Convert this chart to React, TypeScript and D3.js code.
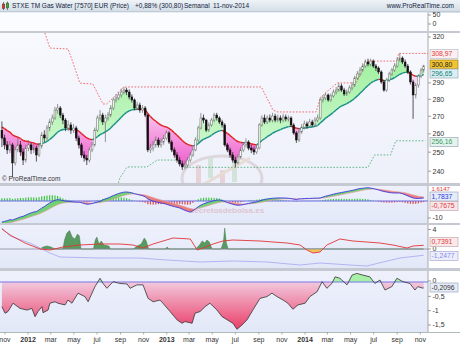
import React from "react";
import * as d3 from "d3";

const W = 460;
const H = 345;
const PR = 428;

const startDate = new Date(2011, 9, 24);
const firstOpen = 262;
const maPeriod = 20;
const maSeed = 264.5;
const signalPeriod = 9;
const signalSeed = -14.4;

const closes = [257.7,253.9,251.2,253.9,244.3,251.2,253.9,250.1,245.8,252.2,
253.9,251.2,252.2,248.5,253.3,259.4,257.7,263.3,266.7,269.0,
273.6,274.8,270.7,267.8,263.3,265.0,262.1,263.3,257.7,253.9,
248.5,246.9,245.8,251.2,253.9,262.1,269.0,270.7,266.7,269.0,
270.7,274.8,279.6,280.8,282.6,284.4,285.6,284.4,281.4,279.6,
274.8,276.6,273.6,274.8,270.7,251.2,252.2,253.9,256.6,253.9,
255.5,257.7,260.5,255.5,251.2,248.5,245.8,243.8,242.2,243.2,
245.8,248.5,251.2,256.6,263.3,269.0,267.8,262.1,265.0,267.8,
270.7,269.0,266.7,265.0,253.9,251.2,248.5,245.8,244.3,247.4,
251.2,253.9,255.5,252.2,251.2,250.1,252.2,265.0,269.0,266.7,
269.0,267.8,270.1,267.8,269.0,267.8,269.6,268.4,269.0,265.0,
260.5,256.6,261.0,263.8,265.6,264.4,266.7,265.0,267.8,269.0,
279.6,280.8,282.6,279.6,282.0,284.4,285.6,288.1,285.6,283.2,
284.4,286.9,288.7,293.1,295.6,298.1,300.7,303.3,302.0,303.9,
300.7,299.4,296.9,290.6,285.6,291.8,295.6,298.1,300.7,304.6,
305.9,303.3,300.7,296.9,290.6,282.6,288.7,294.3,298.1,300.8];

const highs = [267,259.5,256,256,255,253,258,256,252,254,
256.5,255,254.5,253.5,255,261,262,265,268.5,271,
275.5,277.2,276,272,269,267.5,266.5,265.5,264.5,259,
255,250.5,248.5,252.5,255.5,263.5,270.5,273.6,272,271,
272.5,276.5,281,283,284.5,286.5,287.5,287,286,283,
280.5,278.5,278,276.5,276,271.5,254.5,256,258.5,258,
257.5,259.5,262,261.5,256.5,252.5,250,247.5,245.5,245.5,
247.5,250,252.5,258,264.5,271.9,271,268.5,266.5,269,
272,272,270,268,266,255,252.5,250,247.5,249,
252.5,255.5,257.5,256.5,254,253,254,266,270.5,271,
270.5,271,272,271.5,271,270.5,271.5,271,270.5,270,
266,261.5,262.5,265.5,267.5,267,268.5,268,269.5,271,
281,282.5,284,283.5,283.5,286,287.5,290,289.5,287,
286,288.5,290.5,294.5,297.5,300,302.5,305,305.5,305.5,
305,302,300.5,298,292,293,297,299.5,302.5,306.5,
308.97,307,305,302,298,292,290,295.5,299.5,301.5];

const lows = [252.8,251.5,249,249.5,237,243,250,248,243.2,244.5,
250.5,249,249.5,245,247.5,252,255.5,256.5,261.5,265,
268,271.5,269,265.5,261.5,261.5,260,260.5,256,252,
247,245,243.2,244.5,250,253,261,267.5,265,255.5,
267.5,269.5,273.5,278,279.5,281,283,282.5,280,278,
273.5,273.5,272,272,269.5,250,249.5,250.5,252.5,252.5,
252.5,254,256.5,254.5,250,247,244.5,242.5,240.6,241,
242,244.5,247.5,250.5,255.5,262.5,266,261,261,264,
266.5,267.5,265.5,263.5,253,250,247,244.5,242,243.5,
246.5,250,252.5,251,249.5,248.5,249,251.5,264,265.5,
265.5,266.5,266.5,266.5,266.5,266,266.5,267,267,264,
259.5,255,255.5,260,262.5,263,263.5,264,264,266.5,
268,278,279.5,278.5,278.5,281,283,284.5,284.5,282,
282,283.5,285.5,287.5,292,294.5,297,299.5,300.5,300.5,
299.5,297.5,295.5,289.5,284.5,284.5,290.5,294.5,297,299.5,
303.5,302,299.5,295.5,289,268.5,280.5,287,293,296.5];

// 52-week high / low levels: [week index, price]
const upperLevel: [number, number][] = [[10,345],[16.2,322.7],[18.1,312.5],[24.9,311.9],[26.4,304.9],[29.4,289.9],[34.3,289.3],[38.1,277.2],[39.5,277.2],[42,281],[44,284.5],[46,287.5],[97.8,287.5],[102.2,273.6],[104,272.5],[118.5,272.5],[120,281],[122,284],[126.5,290],[133.5,290],[135.5,296],[137,303.9],[149,303.9],[149.5,308.97],[159.6,308.97]];
const lowerLevel: [number, number][] = [[42.5,228],[44.5,236.6],[47.2,242.2],[54.7,242.2],[58.5,245.8],[67,245.8],[69,242.0],[138,242.0],[140.5,248.5],[146.5,248.5],[148.5,256.16],[159.6,256.16]];

const macd = [-12.4,-12.0,-11.6,-11.0,-11.2,-10.6,-10.0,-9.4,-9.0,-8.3,
-7.6,-7.0,-6.5,-6.2,-5.3,-4.2,-3.3,-2.2,-1.2,-0.3,
0.4,0.8,0.6,0.3,-0.1,-0.2,-0.4,-0.5,-0.7,-0.6,
-1.0,-1.5,-1.9,-1.8,-1.5,-1.0,-0.6,-0.3,0.6,1.2,
1.8,2.5,3.2,3.8,4.4,4.9,5.2,5.3,5.1,4.8,
4.3,3.9,3.5,3.1,2.5,1.2,0.5,-0.1,-0.5,-0.8,
-1.2,-1.5,-1.9,-2.4,-2.9,-3.3,-3.7,-4.1,-4.8,-5.5,
-6.1,-6.5,-5.8,-4.6,-3.4,-2.4,-1.7,-1.1,-0.6,-0.2,
0.2,0.5,0.6,0.3,-0.3,-0.9,-1.4,-1.9,-2.3,-2.5,
-2.4,-2.1,-1.8,-1.4,-1.1,-0.8,-0.5,0.0,0.5,0.9,
1.2,1.4,1.6,1.7,1.8,1.8,1.8,1.7,1.6,1.4,
1.1,0.9,1.2,1.3,1.4,1.5,1.5,1.6,1.7,1.7,
1.8,2.3,2.8,3.2,3.6,4.0,4.4,4.7,5.0,5.3,
5.6,5.9,6.2,6.6,7.0,7.3,7.5,7.7,7.8,7.6,
7.3,6.9,6.5,6.0,5.6,5.3,5.0,4.8,4.7,4.7,
4.7,4.3,3.7,3.0,2.4,1.8,1.5,1.5,1.6,1.78];

// third panel: [week index, value]
const osc3Red: [number, number][] = [[0,4.0],[3.1,2.8],[8.7,1.2],[14.4,0],[18.1,-0.2],[23,0.4],[29.4,0.8],[37,1.0],[44.5,1.0],[49.4,0.8],[53.2,0.2],[57,1.0],[64.5,2.2],[71,2.0],[73.6,-0.2],[75.8,0.2],[79.6,1.0],[83.3,1.6],[87.1,1.8],[97.3,1.6],[102.2,1.4],[107.5,1.2],[112.4,0.8],[115,-0.2],[117.3,-0.8],[119.9,-0.6],[122.5,0.8],[127.4,2.0],[132.3,1.6],[137.6,1.4],[142.5,1.2],[147.4,0.8],[152.7,0.2],[155,0.6],[159,0.74]];
const osc3Blue: [number, number][] = [[0,4.2],[3.1,2.6],[10.6,1.2],[18.1,-0.8],[21.9,-1.6],[37,-1.8],[52,-1.8],[62.2,-2.2],[74.7,-2.6],[87.1,-2.4],[100,-2.6],[112.4,-3.2],[119.9,-2.8],[131.2,-3.2],[137.6,-3.4],[143.7,-2.6],[150,-1.8],[159,-1.25]];
const osc3Green: [number, number][] = [[14.4,0],[15.5,0.4],[17,0.6],[18.5,0.4],[20,0],[23,0],[23.6,1.8],[24.5,3.2],[25.5,3.7],[26.5,2.4],[27.5,2.0],[28.5,3.0],[29.2,2.6],[29.8,0],[34.5,0],[35.2,1.8],[35.8,2.4],[36.6,1.0],[37.5,1.6],[38.4,0.8],[40.3,0.6],[40.9,0],[49.5,0],[51,0.6],[52.5,1.0],[53.7,2.2],[54.4,1.6],[55.3,0],[61.5,0],[62.3,0.4],[63,0],[73,0],[74.5,0.8],[75.5,1.6],[76.5,1.2],[77.3,1.8],[78.2,1.4],[79.2,0],[82.6,0],[83.5,1.4],[84,4.2],[84.6,1.2],[85.3,0],[159,0]];

// bottom panel: [week index, value]
const osc4: [number, number][] = [[0,-0.86],[1.2,-1.09],[2.3,-1.03],[4.2,-0.74],[6.8,-0.92],[9.5,-0.98],[11.3,-0.92],[12.5,-1.21],[13.6,-1.03],[15.1,-0.86],[15.5,-1.07],[17.4,-0.98],[18.1,-0.74],[20,-0.69],[21.1,-0.74],[23.8,-0.8],[24.9,-0.63],[26.4,-0.74],[28.7,-0.39],[31.3,-0.51],[32.5,-0.69],[35.1,-0.16],[37,0.13],[38.1,-0.05],[39.6,-0.22],[41.9,0.01],[44.5,-0.05],[47.2,-0.07],[48.3,-0.22],[50.9,-0.1],[53.2,-0.1],[55.1,-0.57],[57,-0.69],[59.6,-0.63],[60.7,-0.74],[63.4,-1.03],[66,-1.32],[67.9,-1.44],[69,-1.38],[71.7,-1.44],[72.8,-1.09],[74.7,-1.03],[76.6,-0.86],[78.4,-0.74],[81.1,-0.98],[83,-1.21],[84.1,-1.27],[86,-1.38],[87.1,-1.44],[88.6,-1.65],[90.5,-1.5],[92.4,-1.32],[94.6,-0.98],[97.3,-0.57],[99.9,-0.51],[101.8,-0.39],[103.7,-0.51],[106,-0.63],[107.8,-0.74],[109.7,-0.95],[111.6,-0.8],[114.3,-0.74],[116.1,-0.51],[118.8,-0.34],[120.7,0.01],[122.5,-0.22],[124.4,-0.05],[125.6,0.18],[127.4,0.13],[130.1,-0.1],[132,0.24],[133.8,0.3],[136.1,0.24],[138.7,0.18],[140.6,-0.05],[142.5,0.07],[144.4,-0.28],[147,-0.16],[148.9,0.13],[151.2,0.01],[153.8,-0.05],[155.7,-0.28],[156.8,-0.16],[158.4,-0.21],[159,-0.2096]];

const priceTicks = [240, 250, 260, 270, 280, 290, 300, 310, 320];
const monthLabels = ["nov", "2012", "mar", "may", "jul", "sep", "nov", "2013", "mar", "may", "jul", "sep", "nov", "2014", "mar", "may", "jul", "sep", "nov"];

const titleText = "STXE TM Gas Water [7570] EUR (Price)";
const changeText = "+0,88% (300,80)";
const periodText = "Semanal";
const dateText = "11-nov-2014";
const siteText = "www.ProRealTime.com";

// right-edge value badges
const priceBadges = [
  { y: 54, text: "308,97", fill: "#fdeef0", stroke: "#b8c0cc", color: "#e03a3a" },
  { y: 64.5, text: "300,80", fill: "#f3c431", stroke: "#a08020", color: "#222" },
  { y: 73.5, text: "296,65", fill: "#dbeef2", stroke: "#99aabb", color: "#137f7a" },
  { y: 142, text: "256,16", fill: "#e4f4ec", stroke: "#99aabb", color: "#3a9a66" },
];

const FONT = "'Liberation Sans', Arial, sans-serif";

type SP = { x: number; a: number; b: number };

function withCrossings(pts: SP[]): SP[] {
  const out: SP[] = [];
  for (let k = 0; k < pts.length; k++) {
    const p = pts[k];
    if (k > 0) {
      const q = pts[k - 1];
      const d0 = q.a - q.b;
      const d1 = p.a - p.b;
      if ((d0 > 0 && d1 < 0) || (d0 < 0 && d1 > 0)) {
        const t = d0 / (d0 - d1);
        const v = q.b + (p.b - q.b) * t;
        out.push({ x: q.x + (p.x - q.x) * t, a: v, b: v });
      }
    }
    out.push(p);
  }
  return out;
}

function splitAreas(pts: SP[], y: (v: number) => number) {
  const all = withCrossings(pts);
  const pos = d3.area<SP>().x((d) => d.x).y0((d) => y(d.b)).y1((d) => y(Math.max(d.a, d.b)))(all) || "";
  const neg = d3.area<SP>().x((d) => d.x).y0((d) => y(d.b)).y1((d) => y(Math.min(d.a, d.b)))(all) || "";
  return { pos, neg };
}

function Badge({ y, text, fill, stroke, color }: { y: number; text: string; fill: string; stroke: string; color: string }) {
  return (
    <g>
      <rect x={430} y={y - 4.5} width={28} height={9} fill={fill} stroke={stroke} strokeWidth={0.7} />
      <text x={431.5} y={y + 2.4} fontSize={6.8} fill={color} fontFamily={FONT}>{text}</text>
    </g>
  );
}

function AxisLabel({ y, text }: { y: number; text: string }) {
  return (
    <g>
      <line x1={PR} x2={PR + 3} y1={y} y2={y} stroke="#777" strokeWidth={0.7} />
      <text x={PR + 4.5} y={y + 2.4} fontSize={7} fill="#333" fontFamily={FONT}>{text}</text>
    </g>
  );
}

export default function App() {
  const n = closes.length;
  const dates = closes.map((_, i) => d3.timeDay.offset(startDate, 7 * i));
  const xT = d3.scaleTime().domain([dates[0], dates[n - 1]]).range([1.9, 423.7]);
  const xI = d3.scaleLinear().domain([0, n - 1]).range([xT(dates[0]), xT(dates[n - 1])]);

  // price panel
  const yP = d3.scaleLog().domain([240, 320]).range([171.2, 37]);
  const opens = closes.map((c, i) => (i === 0 ? firstOpen : closes[i - 1]));
  const alpha = 2 / (maPeriod + 1);
  const ma: number[] = [];
  let prev = maSeed;
  closes.forEach((c) => {
    prev = prev + alpha * (c - prev);
    ma.push(prev);
  });
  const priceFill = splitAreas(closes.map((c, i) => ({ x: xI(i), a: c, b: ma[i] })), yP);
  const maSegs = ma.slice(1).map((m, k) => {
    const i = k + 1;
    return { x1: xI(i - 1), y1: yP(ma[i - 1]), x2: xI(i), y2: yP(m), up: closes[i] >= m };
  });
  const lvlLine = d3.line<[number, number]>().x((d) => xI(d[0])).y((d) => yP(d[1]));
  const visibleTicks = priceTicks.filter((t) => priceBadges.every((b) => Math.abs(yP(t) - b.y) > 6));

  // macd panel
  const yM = d3.scaleLinear().domain([0, -10]).range([201, 218]);
  const sAlpha = 2 / (signalPeriod + 1);
  const signal: number[] = [];
  let sp = signalSeed;
  macd.forEach((v) => {
    sp = sp + sAlpha * (v - sp);
    signal.push(sp);
  });
  const hist = macd.map((v, i) => v - signal[i]);
  const macdFill = splitAreas(macd.map((v, i) => ({ x: xI(i), a: v, b: signal[i] })), yM);
  const macdLine = d3.line<number>().x((_, i) => xI(i)).y((d) => yM(d))(macd) || "";
  const sigLine = d3.line<number>().x((_, i) => xI(i)).y((d) => yM(d))(signal) || "";

  // panel 3
  const y3 = d3.scaleLinear().domain([0, 4]).range([249, 229]);
  const l3 = d3.line<[number, number]>().x((d) => xI(d[0])).y((d) => y3(d[1]));
  const red3Fill = splitAreas(osc3Red.map((d) => ({ x: xI(d[0]), a: d[1], b: 0 })), y3);
  const green3 = d3.area<[number, number]>().x((d) => xI(d[0])).y0(y3(0)).y1((d) => y3(d[1]))(osc3Green) || "";

  // panel 4
  const y4 = d3.scaleLinear().domain([0, -1.5]).range([282, 325]);
  const fill4 = splitAreas(osc4.map((d) => ({ x: xI(d[0]), a: d[1], b: 0 })), y4);
  const line4 = d3.line<[number, number]>().x((d) => xI(d[0])).y((d) => y4(d[1]))(osc4) || "";

  const monthTicks = d3.timeMonth.every(2)!.range(new Date(2011, 10, 1), new Date(2014, 11, 2));

  const sep = (y: number, h: number) => <rect x={0} y={y} width={W} height={h} fill="#c5cad2" />;

  return (
    <div style={{ position: "fixed", left: 0, top: 0 }}>
      <svg width={W} height={H} viewBox={`0 0 ${W} ${H}`} style={{ display: "block" }}>
        <defs>
          <linearGradient id="hdr" x1="0" y1="0" x2="0" y2="1">
            <stop offset="0" stopColor="#eef3f7" />
            <stop offset="1" stopColor="#d3dde6" />
          </linearGradient>
          <linearGradient id="pbg" x1="0" y1="0" x2="0" y2="1">
            <stop offset="0" stopColor="#f8f9fe" />
            <stop offset="1" stopColor="#eef0fa" />
          </linearGradient>
          <linearGradient id="ibg" x1="0" y1="0" x2="0" y2="1">
            <stop offset="0" stopColor="#eef1fc" />
            <stop offset="1" stopColor="#e3e8f8" />
          </linearGradient>
          <linearGradient id="pinkG" gradientUnits="userSpaceOnUse" x1="0" y1="105" x2="0" y2="170">
            <stop offset="0" stopColor="#fbd6f2" />
            <stop offset="1" stopColor="#ee55cc" />
          </linearGradient>
          <linearGradient id="greenG" gradientUnits="userSpaceOnUse" x1="0" y1="55" x2="0" y2="160">
            <stop offset="0" stopColor="#9ff09f" />
            <stop offset="1" stopColor="#d2f8d2" />
          </linearGradient>
          <linearGradient id="pink4" gradientUnits="userSpaceOnUse" x1="0" y1="282" x2="0" y2="330">
            <stop offset="0" stopColor="#f2c9de" />
            <stop offset="1" stopColor="#ea3c66" />
          </linearGradient>
          <clipPath id="cPrice"><rect x={0} y={33} width={PR} height={150} /></clipPath>
          <clipPath id="cM"><rect x={0} y={186} width={PR} height={37} /></clipPath>
          <clipPath id="c3"><rect x={0} y={225} width={PR} height={43} /></clipPath>
          <clipPath id="c4"><rect x={0} y={271} width={PR} height={61} /></clipPath>
        </defs>

        <rect x={0} y={0} width={W} height={H} fill="#ffffff" />
        {/* header */}
        <rect x={0} y={0} width={W} height={12} fill="url(#hdr)" />
        <line x1={0} x2={W} y1={12} y2={12} stroke="#9fb0bf" strokeWidth={0.8} />
        <g>
          <line x1={3.5} x2={3.5} y1={2} y2={10} stroke="#333" strokeWidth={0.6} />
          <rect x={2.2} y={4} width={2.6} height={4.5} fill="#e03030" stroke="#333" strokeWidth={0.4} />
          <line x1={7.5} x2={7.5} y1={1.5} y2={10} stroke="#333" strokeWidth={0.6} />
          <rect x={6.2} y={3} width={2.6} height={5} fill="#30b030" stroke="#333" strokeWidth={0.4} />
        </g>
        <text y={8.4} fontSize={6.5} fontFamily={FONT} fill="#13233f">
          <tspan x={12}>{titleText}</tspan>
          <tspan x={135}>{changeText}</tspan>
          <tspan x={184}>{periodText}</tspan>
          <tspan x={213}>{dateText}</tspan>
        </text>
        <text x={454} y={8.4} fontSize={6.5} fontFamily={FONT} fill="#13233f" textAnchor="end">{siteText}</text>

        {/* top empty panel */}
        <rect x={0} y={12.5} width={PR} height={18.5} fill="#fbfcff" />
        <line x1={PR} x2={PR} y1={12.5} y2={31} stroke="#888" strokeWidth={0.7} />
        <AxisLabel y={15} text="50" />
        <AxisLabel y={24} text="0" />
        {sep(31, 2)}

        {/* price panel */}
        <rect x={0} y={33} width={PR} height={150} fill="url(#pbg)" />
        <g clipPath="url(#cPrice)">
          <path d={priceFill.pos} fill="url(#greenG)" />
          <path d={priceFill.neg} fill="url(#pinkG)" />
          <path d={lvlLine(upperLevel) || ""} fill="none" stroke="#f05a5a" strokeWidth={0.9} strokeDasharray="1.6,1.6" />
          <path d={lvlLine(lowerLevel) || ""} fill="none" stroke="#4fb27a" strokeWidth={0.9} strokeDasharray="1.6,1.6" />
          {/* watermark */}
          <g opacity={0.2}>
            <ellipse cx={222} cy={178} rx={40} ry={22} fill="none" stroke="#a07070" strokeWidth={3} />
            <rect x={196} y={165} width={5} height={22} fill="#d06060" />
            <rect x={208} y={158} width={5} height={20} fill="#60b060" />
            <rect x={220} y={170} width={5} height={18} fill="#d06060" />
            <rect x={232} y={160} width={5} height={22} fill="#60b060" />
            <line x1={190} y1={192} x2={250} y2={158} stroke="#d09040" strokeWidth={3} />
          </g>
          {maSegs.map((s, k) => (
            <line key={k} x1={s.x1} y1={s.y1} x2={s.x2} y2={s.y2} stroke={s.up ? "#168d86" : "#e01e1e"} strokeWidth={1.4} />
          ))}
          {closes.map((c, i) => {
            const o = opens[i];
            const up = c >= o;
            const x = xI(i);
            const top = yP(Math.max(o, c));
            const bot = yP(Math.min(o, c));
            return (
              <g key={i}>
                <line x1={x} x2={x} y1={yP(highs[i])} y2={yP(lows[i])} stroke={up ? "#6c6c6c" : "#111"} strokeWidth={0.7} />
                <rect x={x - 0.9} y={top} width={1.8} height={Math.max(bot - top, 0.6)} fill={up ? "#f6f6f6" : "#111"} stroke={up ? "#6c6c6c" : "#111"} strokeWidth={0.5} />
              </g>
            );
          })}
        </g>
        <text x={2} y={181} fontSize={6.5} fontFamily={FONT} fill="#333">© ProRealTime.com</text>
        {visibleTicks.map((t) => <AxisLabel key={t} y={yP(t)} text={String(t)} />)}
        <line x1={PR} x2={PR} y1={33} y2={183} stroke="#888" strokeWidth={0.7} />
        <line x1={PR - 4} x2={PR} y1={yP(308.97)} y2={yP(308.97)} stroke="#f05a5a" strokeWidth={0.8} strokeDasharray="1.5,1.5" />
        {priceBadges.map((b) => <Badge key={b.text} {...b} />)}
        {sep(183, 3)}

        {/* MACD panel */}
        <rect x={0} y={186} width={PR} height={37} fill="url(#ibg)" />
        <g clipPath="url(#cM)">
          {hist.map((h, i) => (
            <rect key={i} x={xI(i) - 0.6} y={Math.min(yM(h), yM(0))} width={1.2} height={Math.abs(yM(h) - yM(0))} fill={h >= 0 ? "#3cc83c" : "#e04848"} />
          ))}
          <line x1={0} x2={PR} y1={yM(0)} y2={yM(0)} stroke="#6a6ae6" strokeWidth={1.2} />
          <path d={macdFill.pos} fill="#5ccc5c" opacity={0.85} />
          <path d={macdFill.neg} fill="#e86a6a" opacity={0.85} />
          <path d={sigLine} fill="none" stroke="#e6a0a0" strokeWidth={0.7} />
          <path d={macdLine} fill="none" stroke="#3a3ae0" strokeWidth={0.9} />
        </g>
        <line x1={PR} x2={PR} y1={186} y2={223} stroke="#888" strokeWidth={0.7} />
        <AxisLabel y={yM(-10)} text="-10" />
        <text x={431.5} y={190.8} fontSize={6} fill="#e03a3a" fontFamily={FONT}>1,6147</text>
        <Badge y={196.5} text="1,7837" fill="#e6ecfa" stroke="#9aa8c0" color="#2a3ad8" />
        <Badge y={206} text="-0,7675" fill="#f6e6ea" stroke="#c0a8b0" color="#e03a3a" />
        {sep(223, 2)}

        {/* panel 3 */}
        <rect x={0} y={225} width={PR} height={43} fill="url(#ibg)" />
        <g clipPath="url(#c3)">
          <path d={green3} fill="#3f8c45" opacity={0.85} stroke="#2a6a30" strokeWidth={0.5} />
          <path d={red3Fill.neg} fill="#f2c35a" />
          <line x1={0} x2={PR} y1={y3(0)} y2={y3(0)} stroke="#8a8a9a" strokeWidth={0.8} />
          <path d={l3(osc3Blue) || ""} fill="none" stroke="#b4b4f2" strokeWidth={1} />
          <path d={l3(osc3Red) || ""} fill="none" stroke="#e23434" strokeWidth={0.9} />
        </g>
        <line x1={PR} x2={PR} y1={225} y2={268} stroke="#888" strokeWidth={0.7} />
        <AxisLabel y={229.5} text="4" />
        <AxisLabel y={y3(0)} text="0" />
        <Badge y={242} text="0,7391" fill="#fbe8ea" stroke="#c0a8b0" color="#e03a3a" />
        <Badge y={256} text="-1,2477" fill="#eceefc" stroke="#a8acd0" color="#8a8ae8" />
        {sep(268, 3)}

        {/* panel 4 */}
        <rect x={0} y={271} width={PR} height={61} fill="url(#ibg)" />
        <g clipPath="url(#c4)">
          <path d={fill4.pos} fill="#a8f0a8" />
          <path d={fill4.neg} fill="url(#pink4)" />
          <line x1={0} x2={PR} y1={y4(0)} y2={y4(0)} stroke="#7676e6" strokeWidth={1.2} />
          <path d={line4} fill="none" stroke="#333" strokeWidth={0.8} />
        </g>
        <line x1={PR} x2={PR} y1={271} y2={332} stroke="#888" strokeWidth={0.7} />
        <AxisLabel y={y4(0) - 1} text="0" />
        <AxisLabel y={y4(-0.5)} text="-0,5" />
        <AxisLabel y={y4(-1)} text="-1" />
        <AxisLabel y={y4(-1.5)} text="-1,5" />
        <Badge y={287.5} text="-0,2096" fill="#e6ecf8" stroke="#9aa8c0" color="#333" />
        <line x1={0} x2={W} y1={332.5} y2={332.5} stroke="#9aa" strokeWidth={0.8} />

        {/* x axis */}
        {monthTicks.map((d, k) => (
          <g key={k}>
            <line x1={xT(d)} x2={xT(d)} y1={332.5} y2={334.5} stroke="#777" strokeWidth={0.6} />
            <text x={xT(d)} y={341.5} fontSize={7} textAnchor="middle" fontFamily={FONT} fill="#333" fontWeight={/^\d/.test(monthLabels[k]) ? "bold" : "normal"}>{monthLabels[k]}</text>
          </g>
        ))}
        <text x={227} y={213} fontSize={8} fontFamily={FONT} fill="#c05050" opacity={0.25} textAnchor="middle" fontWeight="bold">secretosdebolsa.es</text>
      </svg>
    </div>
  );
}
